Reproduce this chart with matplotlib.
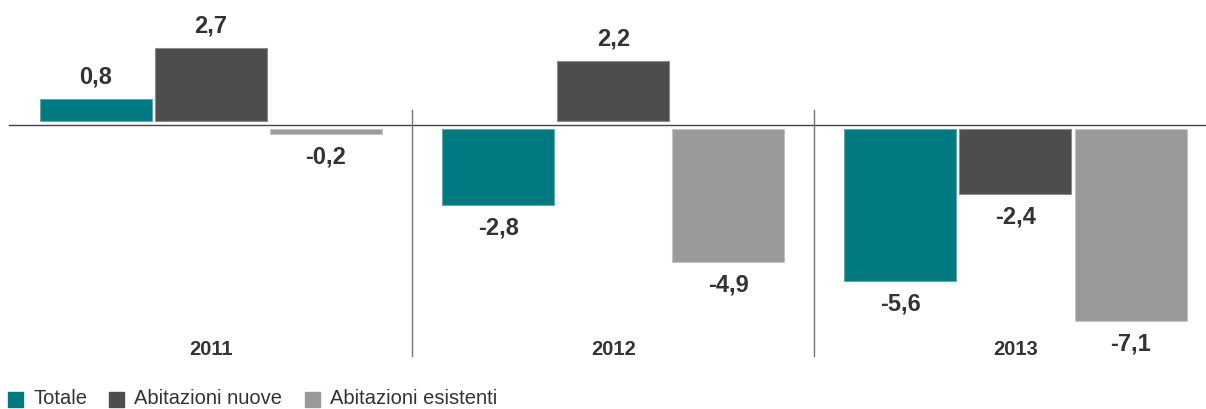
import matplotlib
matplotlib.use("Agg")
import matplotlib.pyplot as plt
from matplotlib.patches import Rectangle
import numpy as np

years = ["2011", "2012", "2013"]
series_names = ["Totale", "Abitazioni nuove", "Abitazioni esistenti"]
totale = [0.8, -2.8, -5.6]
nuove = [2.7, 2.2, -2.4]
esistenti = [-0.2, -4.9, -7.1]
colors = ["#007A80", "#4D4D4D", "#9A9A9A"]
edge_colors = ["#5FA8AC", "#8A8A8A", "#C4C4C4"]
text_color = "#333333"

W, H = 1206, 409
fig = plt.figure(figsize=(W / 100, H / 100), dpi=100)
ax = fig.add_axes([0, 0, 1, 1])

# pixel-based layout helpers
px_per_unit = 27.1
zero_px = 125
group_px = 402.25
first_center_px = 211
ax.set_xlim(-first_center_px / group_px, (W - first_center_px) / group_px)
ax.set_ylim(-(H - zero_px) / px_per_unit, zero_px / px_per_unit)
ax.axis("off")

fs = "Liberation Sans"
gap = 4 / px_per_unit          # small gap between bars and the zero line
step = 115 / group_px
width = 112 / group_px
x = np.arange(len(years))

for i, (vals, c, ec) in enumerate(zip([totale, nuove, esistenti], colors, edge_colors)):
    xs = x + (i - 1) * step
    bottoms = [gap if v >= 0 else -gap for v in vals]
    ax.bar(xs, vals, width=width, bottom=bottoms, color=c, edgecolor=ec,
           linewidth=0.8, zorder=3)
    for xi, v, b in zip(xs, vals, bottoms):
        label = f"{v:.1f}".replace(".", ",")
        y = v + b + (22 / px_per_unit if v >= 0 else -23 / px_per_unit)
        ax.text(xi, y, label, ha="center", va="center", fontsize=17,
                fontweight="bold", color=text_color, family=fs, zorder=4)

# zero baseline
ax.axhline(0, xmin=9 / W, xmax=1, color="#444444", lw=1.0, zorder=2)

# group separators
for d in [0.5, 1.5]:
    ax.plot([d, d], [15 / px_per_unit, -231 / px_per_unit], color="#777777",
            lw=1.0, zorder=2)

# year labels
for xi, yr in zip(x, years):
    ax.text(xi, -(349.5 - zero_px) / px_per_unit, yr, ha="center", va="center",
            fontsize=14.5, fontweight="bold", color=text_color, family=fs)

# legend along the bottom edge
def px_to_data(px, py):
    xd = ax.get_xlim()[0] + px / group_px
    yd = (zero_px - py) / px_per_unit
    return xd, yd

legend_px = [(8, 33), (109, 134), (305, 330)]
for (sq_x, tx), c, name in zip(legend_px, colors, series_names):
    x0, y_top = px_to_data(sq_x, 392)
    x1, y_bot = px_to_data(sq_x + 15, 407)
    ax.add_patch(Rectangle((x0, y_bot), x1 - x0, y_top - y_bot, color=c,
                           clip_on=False, zorder=3))
    txd, tyd = px_to_data(tx, 404)
    ax.text(txd, tyd, name, ha="left", va="baseline", fontsize=14.5,
            color=text_color, family=fs)

fig.savefig("out.png", dpi=100)
